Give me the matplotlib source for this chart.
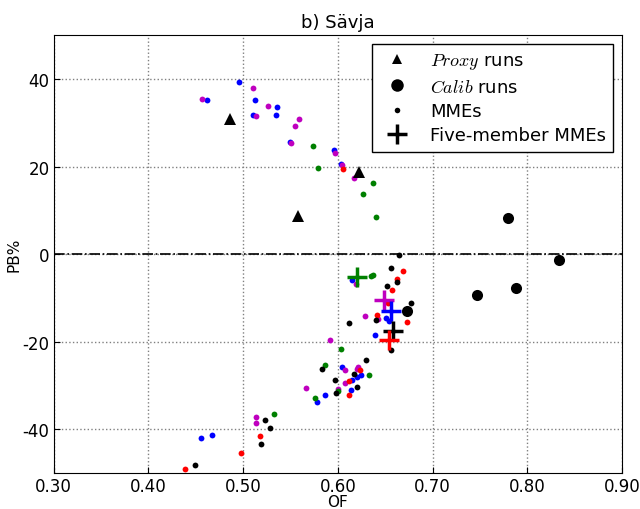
import matplotlib
matplotlib.use("Agg")
import matplotlib.pyplot as plt

plt.rcParams['mathtext.fontset'] = 'cm'
plt.rcParams['font.family'] = ['DejaVu Sans']
plt.rcParams['axes.unicode_minus'] = False

# Proxy runs (triangles)
proxy_of = [0.486, 0.558, 0.622]
proxy_pb = [30.8, 8.7, 18.7]

# Calib runs (big circles)
calib_of = [0.780, 0.833, 0.788, 0.747, 0.673]
calib_pb = [8.2, -1.4, -7.7, -9.3, -13.0]

# MMEs (small dots) per colour
mme_blue_of = [0.496, 0.462, 0.512, 0.536, 0.510, 0.535, 0.549, 0.596, 0.603, 0.615,
               0.651, 0.654, 0.639, 0.604, 0.620, 0.624, 0.615, 0.614, 0.586, 0.578,
               0.467, 0.455]
mme_blue_pb = [39.4, 35.1, 35.3, 33.5, 31.9, 31.7, 25.7, 23.7, 20.7, -5.9,
               -14.6, -15.3, -18.5, -25.7, -28.0, -27.6, -28.7, -31.0, -32.1, -33.7,
               -41.2, -41.9]

mme_mag_of = [0.510, 0.456, 0.526, 0.513, 0.559, 0.555, 0.550, 0.597, 0.604, 0.617,
              0.619, 0.629, 0.642, 0.592, 0.608, 0.620, 0.621, 0.608, 0.600, 0.566,
              0.514, 0.513]
mme_mag_pb = [38.0, 35.5, 33.9, 31.6, 30.8, 29.2, 25.3, 23.2, 20.3, 17.5,
              -6.8, -14.1, -14.8, -19.6, -26.4, -26.2, -25.7, -29.4, -30.8, -30.5,
              -37.1, -38.5]

mme_green_of = [0.574, 0.579, 0.637, 0.627, 0.640, 0.635, 0.637, 0.603, 0.586, 0.633,
                0.600, 0.576, 0.532]
mme_green_pb = [24.8, 19.6, 16.2, 13.7, 8.4, -5.0, -4.8, -21.6, -25.2, -27.6,
                -31.2, -32.8, -36.4]

mme_red_of = [0.605, 0.669, 0.662, 0.657, 0.653, 0.641, 0.673, 0.623, 0.612, 0.612,
              0.518, 0.498, 0.439]
mme_red_pb = [19.4, -3.9, -5.7, -8.2, -11.2, -13.9, -15.5, -26.4, -28.9, -32.1,
              -41.5, -45.3, -49.0]

mme_black_of = [0.664, 0.656, 0.662, 0.652, 0.677, 0.640, 0.612, 0.656, 0.630, 0.583,
                0.617, 0.597, 0.620, 0.598, 0.523, 0.528, 0.519, 0.449]
mme_black_pb = [-0.2, -3.2, -6.4, -7.3, -11.2, -15.0, -15.7, -21.9, -24.1, -26.3,
                -27.3, -28.7, -30.3, -31.7, -37.9, -39.6, -43.3, -48.1]

# Five-member MMEs (crosses)
five_of = [0.620, 0.649, 0.656, 0.658, 0.654]
five_pb = [-5.2, -10.5, -13.0, -17.5, -19.6]
five_colors = ['g', 'm', 'b', 'k', 'r']

fig = plt.figure(figsize=(6.4, 5.1), dpi=100)
ax = fig.add_axes([0.084, 0.070, 0.888, 0.859])

ax.axhline(0, color='k', linestyle='-.', linewidth=1.2, zorder=1)

ms_dot = 4.2
for xs, ys, c in [(mme_blue_of, mme_blue_pb, 'b'), (mme_mag_of, mme_mag_pb, 'm'),
                  (mme_green_of, mme_green_pb, 'g'), (mme_red_of, mme_red_pb, 'r'),
                  (mme_black_of, mme_black_pb, 'k')]:
    ax.plot(xs, ys, 'o', color=c, markersize=ms_dot, markeredgewidth=0, zorder=3)

ax.plot(proxy_of, proxy_pb, '^', color='k', markersize=8, markeredgewidth=0, zorder=4)
ax.plot(calib_of, calib_pb, 'o', color='k', markersize=8, markeredgewidth=0, zorder=4)
for x, y, c in zip(five_of, five_pb, five_colors):
    ax.plot(x, y, '+', color=c, markersize=15, markeredgewidth=2.5, zorder=5)

ax.set_xlim(0.30, 0.90)
ax.set_ylim(-50, 50)
ax.set_xticks([0.30, 0.40, 0.50, 0.60, 0.70, 0.80, 0.90])
ax.set_xticklabels(['0.30', '0.40', '0.50', '0.60', '0.70', '0.80', '0.90'])
ax.set_yticks([-40, -20, 0, 20, 40])
ax.tick_params(labelsize=12, direction='in', length=4, pad=3)
ax.grid(True, color='gray', linestyle=':', linewidth=1)
ax.set_axisbelow(True)
ax.set_xlabel('OF', fontsize=11, labelpad=-1)
ax.set_ylabel('PB%', fontsize=11, labelpad=1)
ax.set_title('b) Sävja', fontsize=13)

h1, = ax.plot([], [], '^', color='k', markersize=7, markeredgewidth=0)
h2, = ax.plot([], [], 'o', color='k', markersize=9, markeredgewidth=0)
h3, = ax.plot([], [], 'o', color='k', markersize=4, markeredgewidth=0)
h4, = ax.plot([], [], '+', color='k', markersize=14, markeredgewidth=2.5)
leg = ax.legend([h1, h2, h3, h4], [r'$Proxy$ runs', r'$Calib$ runs', 'MMEs', 'Five-member MMEs'],
                loc='upper right', fontsize=13, fancybox=False, framealpha=1,
                edgecolor='k', numpoints=1, handletextpad=0.8, borderpad=0.4,
                labelspacing=0.35)
leg.get_frame().set_linewidth(1.0)

fig.savefig('out.png', dpi=100)
